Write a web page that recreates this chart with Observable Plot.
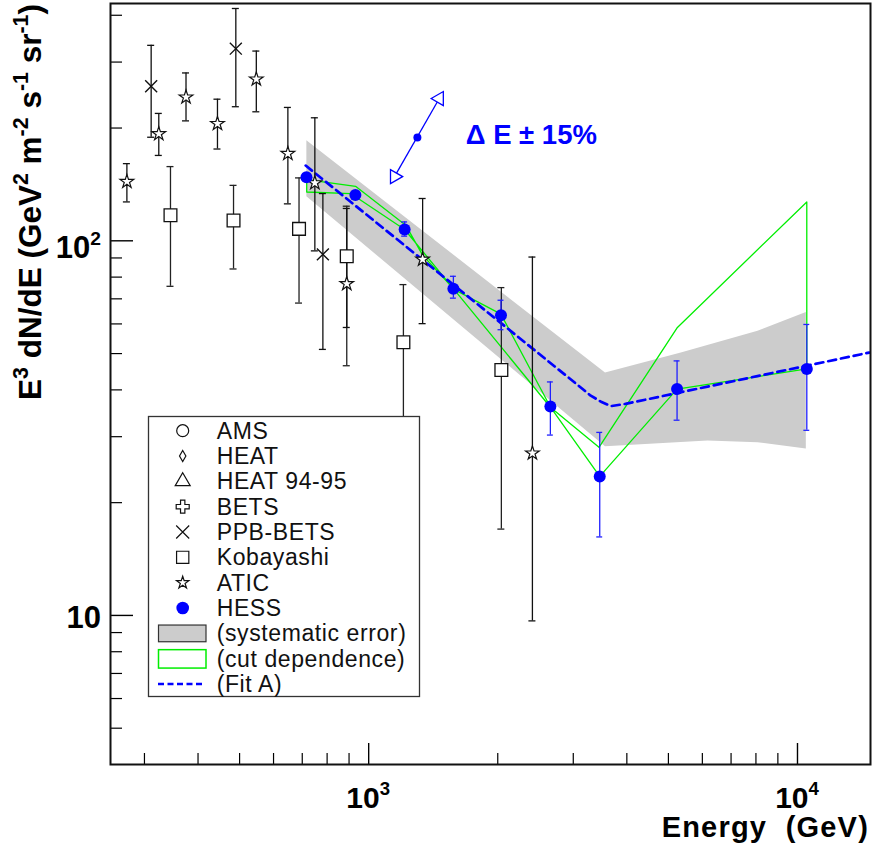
<!DOCTYPE html>
<html><head><meta charset="utf-8">
<script src="https://cdn.jsdelivr.net/npm/d3@7"></script>
<script src="https://cdn.jsdelivr.net/npm/@observablehq/plot@0.6"></script>
<style>
body{margin:0;background:#fff;}
#chart{position:relative;width:875px;height:850px;}
svg{font-family:"Liberation Sans",Arial,sans-serif;}
</style>
</head><body><div id="chart"></div>
<script>
// ---------------- data ----------------
const aticE  = [273, 324, 375, 444, 547, 648, 749, 889, 1336, 2409];
const aticF  = [143.9, 193, 241.7, 205.4, 270, 170.9, 142.7, 76.8, 89.2, 27.1];
const aticHi = [160.7, 218.8, 280.6, 238.8, 321, 227, 213, 122, 129.7, 90.5];
const aticLo = [127, 169, 209, 175.8, 221, 125.5, 94, 58.7, 60.1, 9.67];

const kobE  = [345, 484, 688, 889, 1205, 2039];
const kobF  = [117, 113.3, 107.6, 90.9, 53.6, 45.2];
const kobHi = [157.8, 140.6, 147.2, 123.7, 76.4, 75];
const kobLo = [75.6, 84.1, 68.2, 46.4, 25, 17.0];

const ppbE  = [311, 490, 782];
const ppbF  = [258.6, 325.8, 92];
const ppbHi = [332.5, 417, 133.7];
const ppbLo = [189, 228, 51.3];

const hessE  = [716, 931, 1213, 1576, 2035, 2653, 3458, 5238, 10513];
const hessF  = [147.8, 132.6, 107.2, 74.5, 63.3, 36.1, 23.5, 40.2, 45.5];
const hessHi = [151, 135.5, 112.3, 80.4, 69.4, 42.0, 30.8, 47.8, 59.8];
const hessLo = [144.5, 129.8, 102.9, 70.3, 57.9, 30.3, 16.2, 33.2, 31.2];

// systematic error band (outline: upper edge then lower edge back)
const bandE = [715.6, 3557, 5343, 8067, 10457, 10457, 8067, 6167, 3557, 715.6];
const bandF = [185.4, 44.5, 50.3, 57.5, 64.6, 27.9, 29.0, 29.3, 28.3, 131.5];

// cut dependence envelope (closed outline)
const cutE = [717, 932, 1220, 1336, 1581, 2035, 2657, 3444, 5248, 10512, 10512, 5238, 3458, 2657, 1581, 1213, 908, 717, 717];
const cutF = [145.7, 139.8, 110.1, 91.6, 74.2, 63.7, 35.9, 28.1, 58.7, 127, 45.5, 40.2, 23.5, 35.9, 74.2, 107.2, 133.7, 135, 145.7];

// Fit A
const fitE = [713, 3123, 3295, 3482, 3670, 3970, 14690];
const fitF = [158.8, 40.6, 38.6, 37.2, 36.2, 36.7, 50.3];

// energy-scale annotation
const dEcenterE = [1299], dEcenterF = [188.8];
const dEendsE = [1149, 1461], dEendsF = [148.4, 239.8];
const dElabel = "\u0394 E \u00B1 15%";
const dElabelE = 1684, dElabelF = 191;

// axes
const xDomain = [250, 14800];
const yDomain = [4, 430];
const xMajor = [1000, 10000];
const xMinor = [300,400,500,600,700,800,900,2000,3000,4000,5000,6000,7000,8000,9000];
const yMajor = [10, 100];
const yMinor = [5,6,7,8,9,20,30,40,50,60,70,80,90,200,300,400];
const xTickLabels = [["10","3"],["10","4"]];
const yTickLabels = [["10",""],["10","2"]];

const legendLabels = ["AMS","HEAT","HEAT 94-95","BETS","PPB-BETS","Kobayashi","ATIC","HESS","(systematic error)","(cut dependence)","(Fit A)"];
const legendKinds  = ["circle","diamond","triangle","cross","times","square","star","hess","band","cut","fit"];

// ---------------- build ----------------
const rows = (E,F,hi,lo) => E.map((e,i)=>({E:e,F:F[i],hi:hi?hi[i]:null,lo:lo?lo[i]:null}));
const atic = rows(aticE,aticF,aticHi,aticLo);
const kob  = rows(kobE,kobF,kobHi,kobLo);
const ppb  = rows(ppbE,ppbF,ppbHi,ppbLo);
const hess = rows(hessE,hessF,hessHi,hessLo);
const band = rows(bandE,bandF);
const cut  = rows(cutE,cutF);
const fit  = rows(fitE,fitF);

const W = 875, H = 850, mL = 110, mR = 5, mT = 3, mB = 86;
const pW = W - mL - mR, pH = H - mT - mB;
const capK = 1.019, capKb = 1.016;

function errMarks(d, color, k, sw){
  return [
    Plot.ruleX(d, {x:"E", y1:"lo", y2:"hi", stroke:color, strokeWidth:sw}),
    Plot.ruleY(d, {y:"hi", x1:r=>r.E/k, x2:r=>r.E*k, stroke:color, strokeWidth:sw}),
    Plot.ruleY(d, {y:"lo", x1:r=>r.E/k, x2:r=>r.E*k, stroke:color, strokeWidth:sw})
  ];
}

const svgEl = Plot.plot({
  width: W, height: H,
  marginLeft: mL, marginRight: mR, marginTop: mT, marginBottom: mB,
  x: {type:"log", domain:xDomain, axis:null},
  y: {type:"log", domain:yDomain, axis:null},
  style: {background:"white", fontFamily:"Liberation Sans, Arial, sans-serif"},
  marks: [
    Plot.line(band, {x:"E", y:"F", fill:"#cccccc", stroke:"none"}),
    Plot.line(cut, {x:"E", y:"F", stroke:"#00ee00", strokeWidth:1.3}),
    Plot.line(fit, {x:"E", y:"F", stroke:"#0000ff", strokeWidth:2.7, strokeDasharray:"8,5"}),
    ...errMarks(kob, "#222", capK, 1.3),
    ...errMarks(ppb, "#111", capK, 1.3),
    ...errMarks(atic, "#111", capK, 1.3),
    Plot.dot(kob, {x:"E", y:"F", symbol:"square", r:7.2, fill:"white", stroke:"#111", strokeWidth:1.3}),
    Plot.dot(ppb, {x:"E", y:"F", symbol:"times", r:5.5, stroke:"#111", strokeWidth:1.4}),
    Plot.dot(atic, {x:"E", y:"F", symbol:"star", r:4.3, fill:"white", stroke:"#111", strokeWidth:1.2}),
    ...errMarks(hess, "#2020ff", capKb, 1.3),
    Plot.dot(hess, {x:"E", y:"F", r:6, fill:"#0000ff", stroke:"none"}),
    // energy-scale annotation
    Plot.link([0], {x1:()=>dEendsE[0], y1:()=>dEendsF[0], x2:()=>dEendsE[1], y2:()=>dEendsF[1], stroke:"#0000ff", strokeWidth:1.3}),
    Plot.dot([0,1], {x:i=>dEendsE[i], y:i=>dEendsF[i], symbol:"triangle", r:5.2, rotate:i=>i===0?90:-90, fill:"white", stroke:"#0000ff", strokeWidth:1.3}),
    Plot.dot([0], {x:()=>dEcenterE[0], y:()=>dEcenterF[0], r:4, fill:"#0000ff"}),
    Plot.text([dElabel], {x:()=>dElabelE, y:()=>dElabelF, text:d=>d, textAnchor:"start", lineAnchor:"middle", fontSize:27.5, fontWeight:"bold", fill:"#0000ff"}),
    // inward ticks
    Plot.tickY(yMajor, {y:d=>d, insetRight:pW-23, stroke:"black", strokeWidth:1.4}),
    Plot.tickY(yMinor, {y:d=>d, insetRight:pW-12, stroke:"black", strokeWidth:1.2}),
    Plot.tickX(xMajor, {x:d=>d, insetTop:pH-21, stroke:"black", strokeWidth:1.4}),
    Plot.tickX(xMinor, {x:d=>d, insetTop:pH-11, stroke:"black", strokeWidth:1.2}),
    Plot.frame({stroke:"#111", strokeWidth:2})
  ]
});
document.getElementById("chart").appendChild(svgEl);

// ---------------- text: tick labels, axis titles, legend ----------------
const svg = d3.select(svgEl);
const xs = svgEl.scale("x"), ys = svgEl.scale("y");
const FF = "Liberation Sans, Arial, sans-serif";

function supText(g, parts, fs, sc){
  let raised = false;
  parts.forEach(([t, s]) => {
    if (t) {
      const ts = g.append("tspan").attr("font-size", fs).text(t);
      if (raised) { ts.attr("dy", fs*0.42); raised = false; }
    }
    if (s) {
      g.append("tspan").attr("font-size", fs*sc).attr("dy", -fs*0.42).text(s);
      raised = true;
    }
  });
}

// y tick labels
yMajor.forEach((v,i) => {
  const t = svg.append("text").attr("x", 101).attr("y", ys.apply(v) + (i===1?18:13.5))
    .attr("text-anchor","end").attr("font-weight","bold").attr("font-family",FF);
  supText(t, [yTickLabels[i]], 31, 0.62);
});
// x tick labels
xMajor.forEach((v,i) => {
  const t = svg.append("text").attr("x", xs.apply(v)).attr("y", 808)
    .attr("text-anchor","middle").attr("font-weight","bold").attr("font-family",FF);
  supText(t, [xTickLabels[i]], 30, 0.62);
});
// x title
svg.append("text").attr("x", 869).attr("y", 837).attr("text-anchor","end")
  .attr("font-weight","bold").attr("font-size",29).attr("font-family",FF)
  .attr("letter-spacing", 1.2)
  .attr("xml:space","preserve").text("Energy  (GeV)");
// y title
const yt = svg.append("text").attr("transform","translate(41,202) rotate(-90)")
  .attr("text-anchor","middle").attr("font-weight","bold").attr("font-family",FF);
supText(yt, [["E","3"],[" dN/dE (GeV","2"],[" m","-2"],[" s","-1"],[" sr","-1"],[")",""]], 31.5, 0.68);

// legend
const lg = svg.append("g").attr("text-anchor","start");
lg.append("rect").attr("x",148.5).attr("y",416.5).attr("width",271).attr("height",280)
  .attr("fill","white").attr("stroke","#333").attr("stroke-width",1.3);
const symMap = {circle:[d3.symbolCircle,113], diamond:[d3.symbolDiamond,35], triangle:[d3.symbolTriangle,97],
  cross:[d3.symbolCross,94], times:[d3.symbolTimes,112], square:[d3.symbolSquare,150], star:[d3.symbolStar,47]};
legendLabels.forEach((lab,i) => {
  const cy = 430.7 + i*25.33, cx = 182.7, k = legendKinds[i];
  if (symMap[k]) {
    const [type,size] = symMap[k];
    lg.append("path").attr("d", d3.symbol(type, size)()).attr("transform",`translate(${cx},${cy})`)
      .attr("fill", k==="times" ? "none" : "white").attr("stroke","#111").attr("stroke-width",1.2);
  } else if (k==="hess") {
    lg.append("circle").attr("cx",cx).attr("cy",cy).attr("r",6.3).attr("fill","#0000ff");
  } else if (k==="band") {
    lg.append("rect").attr("x",158.5).attr("y",cy-8.3).attr("width",47.5).attr("height",16.7)
      .attr("fill","#cccccc").attr("stroke","#333").attr("stroke-width",1.2);
  } else if (k==="cut") {
    lg.append("rect").attr("x",158.5).attr("y",cy-9).attr("width",47.5).attr("height",18.4)
      .attr("fill","white").attr("stroke","#00ee00").attr("stroke-width",1.5);
  } else if (k==="fit") {
    lg.append("line").attr("x1",158).attr("x2",203).attr("y1",cy).attr("y2",cy)
      .attr("stroke","#0000ff").attr("stroke-width",2.6).attr("stroke-dasharray","6,3.5");
  }
  lg.append("text").attr("x",216.7).attr("y",cy+8).attr("font-size",23).attr("font-family",FF)
    .attr("letter-spacing",0.6).attr("text-anchor","start").attr("fill","#111").text(lab);
});
</script>
</body></html>
